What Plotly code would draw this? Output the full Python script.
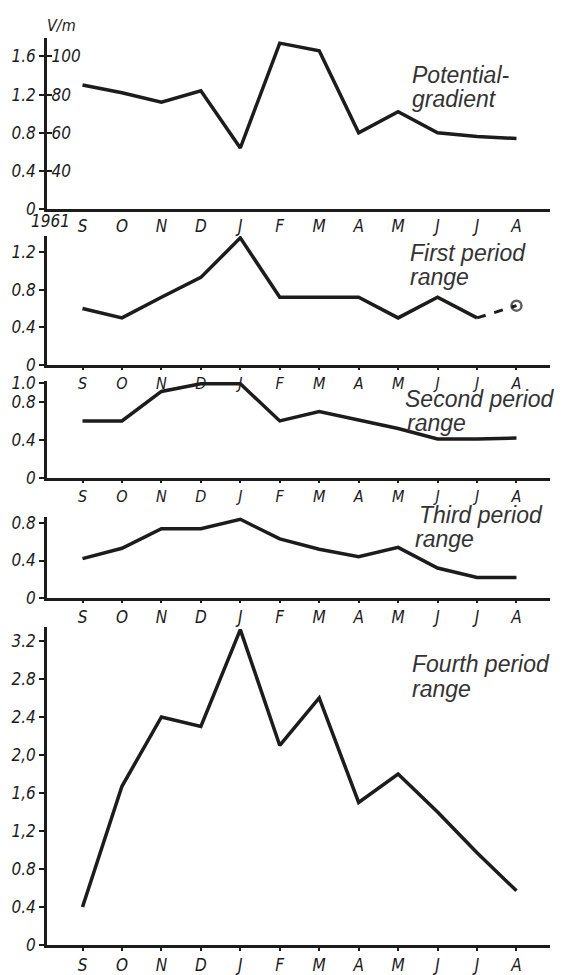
import plotly.graph_objects as go

months = ["S", "O", "N", "D", "J", "F", "M", "A", "M", "J", "J", "A"]
xpos = list(range(12))

potential_gradient = [85, 81, 76, 82, 52, 107, 103, 60, 71, 60, 58, 57]   # V/m
first_range = [0.6, 0.5, 0.72, 0.93, 1.35, 0.72, 0.72, 0.72, 0.5, 0.72, 0.5]
first_range_last = [0.5, 0.63]          # dashed continuation J -> A (uncertain)
second_range = [0.6, 0.6, 0.91, 0.99, 0.99, 0.6, 0.7, 0.61, 0.52, 0.41, 0.41, 0.42]
third_range = [0.42, 0.53, 0.74, 0.74, 0.84, 0.63, 0.52, 0.44, 0.54, 0.32, 0.22, 0.22]
fourth_range = [0.4, 1.67, 2.4, 2.3, 3.32, 2.1, 2.6, 1.5, 1.8, 1.4, 0.97, 0.57]

pg_left_vals = [20, 40, 60, 80, 100]
pg_left_text = ["0", "0.4", "0.8", "1.2", "1.6"]
pg_right_vals = [40, 60, 80, 100]
pg_right_text = ["40", "60", "80", "100"]
t2_vals = [0, 0.4, 0.8, 1.2]
t2_text = ["0", "0.4", "0.8", "1.2"]
t3_vals = [0, 0.4, 0.8, 1.0]
t3_text = ["0", "0.4", "0.8", "1.0"]
t4_vals = [0, 0.4, 0.8]
t4_text = ["0", "0.4", "0.8"]
t5_vals = [0, 0.4, 0.8, 1.2, 1.6, 2.0, 2.4, 2.8, 3.2]
t5_text = ["0", "0.4", "0.8", "1,2", "1,6", "2,0", "2.4", "2.8", "3.2"]

# the page body adds an 8 px offset; layout below is in screen pixels
OFF = 8
W, H = 564 - OFF, 975 - OFF
ML, MR, MT, MB = 47 - OFF, 14, 30, 30
PH = H - MT - MB
PW = W - ML - MR
BOTTOM = H - MB   # figure px of plot-area bottom


def py(y):
    return (BOTTOM - (y - OFF)) / PH


def px(x):
    return (x - OFF - ML) / PW


LINE = dict(color="#1c1c1c", width=3.5)
TICKFONT = dict(family="DejaVu Sans Condensed, Liberation Sans Narrow, sans-serif",
                size=17, color="#1c1c1c", style="italic")
LABFONT = dict(family="Liberation Sans, Arial, sans-serif", size=23,
               color="#333333", style="italic")

fig = go.Figure()
fig.add_trace(go.Scatter(x=xpos, y=potential_gradient, mode="lines", line=LINE,
                         xaxis="x", yaxis="y", showlegend=False))
fig.add_trace(go.Scatter(x=xpos[:11], y=first_range, mode="lines", line=LINE,
                         xaxis="x2", yaxis="y2", showlegend=False))
fig.add_trace(go.Scatter(x=xpos[10:12], y=first_range_last, mode="lines+markers",
                         line=dict(color="#1c1c1c", width=3, dash="dash"),
                         marker=dict(symbol="circle-open", size=[0, 10],
                                     color="#1c1c1c", line=dict(width=2.5)),
                         xaxis="x2", yaxis="y2", showlegend=False))
fig.add_trace(go.Scatter(x=xpos, y=second_range, mode="lines", line=LINE,
                         xaxis="x3", yaxis="y3", showlegend=False))
fig.add_trace(go.Scatter(x=xpos, y=third_range, mode="lines", line=LINE,
                         xaxis="x4", yaxis="y4", showlegend=False))
fig.add_trace(go.Scatter(x=xpos, y=fourth_range, mode="lines", line=LINE,
                         xaxis="x5", yaxis="y5", showlegend=False))

xr = [-0.9, 11.85]
xbase = dict(range=xr, tickmode="array", tickvals=xpos, showline=True,
             linecolor="#1c1c1c", linewidth=2.5, showgrid=False, zeroline=False,
             tickfont=TICKFONT, ticks="outside", ticklen=5, tickwidth=2,
             tickcolor="#1c1c1c", fixedrange=True, automargin=False)
ybase = dict(tickmode="array", showline=True, linecolor="#1c1c1c", linewidth=2.5,
             showgrid=False, zeroline=False, tickfont=TICKFONT, ticks="outside",
             ticklen=5, tickwidth=2, tickcolor="#1c1c1c", fixedrange=True,
             automargin=False)

panel_px = [(209, 34), (365, 236), (478, 381), (598, 517), (945, 627)]
doms = [[max(0.0, py(b)), min(1.0, py(t))] for b, t in panel_px]

fig.update_layout(
    width=W, height=H,
    margin=dict(l=ML, r=MR, t=MT, b=MB),
    paper_bgcolor="white", plot_bgcolor="white",
    xaxis=dict(xbase, anchor="y", domain=[0, 1], ticktext=months, ticks=""),
    xaxis2=dict(xbase, anchor="y2", domain=[0, 1], ticktext=months, ticklen=2,
                tickfont=dict(TICKFONT, size=16)),
    xaxis3=dict(xbase, anchor="y3", domain=[0, 1], ticktext=months, ticklen=2,
                tickfont=dict(TICKFONT, size=16)),
    xaxis4=dict(xbase, anchor="y4", domain=[0, 1], ticktext=months, ticklen=2),
    xaxis5=dict(xbase, anchor="y5", domain=[0, 1], ticktext=months, ticklen=3),
    yaxis=dict(ybase, anchor="x", domain=doms[0], range=[20, 109.7],
               tickvals=pg_left_vals, ticktext=pg_left_text),
    yaxis6=dict(ybase, anchor="x", overlaying="y", side="left", range=[20, 109.7],
                tickvals=pg_right_vals, ticktext=pg_right_text, ticks="inside",
                ticklabelposition="inside", showline=False),
    yaxis2=dict(ybase, anchor="x2", domain=doms[1], range=[0, 1.37],
                tickvals=t2_vals, ticktext=t2_text),
    yaxis3=dict(ybase, anchor="x3", domain=doms[2], range=[0, 1.02],
                tickvals=t3_vals, ticktext=t3_text),
    yaxis4=dict(ybase, anchor="x4", domain=doms[3], range=[0, 0.864],
                tickvals=t4_vals, ticktext=t4_text),
    yaxis5=dict(ybase, anchor="x5", domain=doms[4], range=[0, 3.347],
                tickvals=t5_vals, ticktext=t5_text),
)
# invisible trace to activate the overlay axis
fig.add_trace(go.Scatter(x=[None], y=[None], xaxis="x", yaxis="y6",
                         showlegend=False, hoverinfo="skip"))

labels = [
    ("Potential-", 410, 75), ("gradient", 410, 99),
    ("First period", 408, 253), ("range", 408, 277),
    ("Second period", 403, 399), ("range", 405, 423),
    ("Third period", 417, 515), ("range", 413, 539),
    ("Fourth period", 410, 664), ("range", 410, 689),
]
for text, x, y in labels:
    fig.add_annotation(text=text, xref="paper", yref="paper", x=px(x), y=py(y),
                       xanchor="left", yanchor="middle", showarrow=False,
                       font=LABFONT)

fig.add_annotation(text="V/m", xref="paper", yref="paper", x=px(61), y=py(25),
                   xanchor="center", yanchor="middle", showarrow=False,
                   font=dict(TICKFONT, size=16))
fig.add_annotation(text="1961", xref="paper", yref="paper", x=px(50), y=py(221),
                   xanchor="center", yanchor="middle", showarrow=False,
                   font=TICKFONT)

fig.write_html("out.html")
